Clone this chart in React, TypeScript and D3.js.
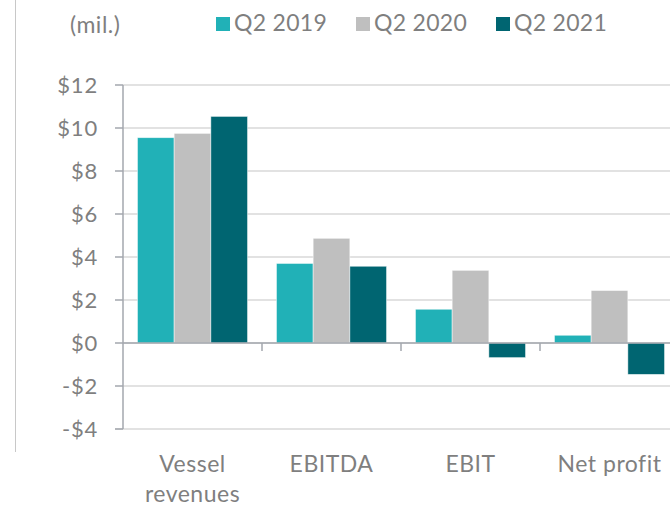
import React from "react";
import * as d3 from "d3";

// data (USD millions)
const categories = ["Vessel revenues", "EBITDA", "EBIT", "Net profit"];
const seriesNames = ["Q2 2019", "Q2 2020", "Q2 2021"];
const q2019 = [9.55, 3.7, 1.57, 0.36];
const q2020 = [9.75, 4.87, 3.38, 2.44];
const q2021 = [10.54, 3.57, -0.68, -1.46];
const yTicks = [-4, -2, 0, 2, 4, 6, 8, 10, 12];
const colors = ["#21b1b7", "#bfbfbf", "#006571"];

const W = 670;
const H = 507;
const font = "Lato, 'Noto Sans', sans-serif";
const textColor = "#7f7f7f";

const App = () => {
  const series = [q2019, q2020, q2021];

  const y = d3.scaleLinear().domain([-4, 12]).range([429, 85]);
  // the plot continues past the right edge of the picture
  const x0 = d3.scaleBand().domain(categories).range([123, 679]);
  const bw = x0.bandwidth();
  const x1 = d3
    .scaleBand()
    .domain(seriesNames)
    .range([bw * 0.104, bw * 0.896]);

  const fmt = (v) => (v < 0 ? `-$${Math.abs(v)}` : `$${v}`);

  // legend positions
  const legendX = [216, 356, 496];

  return (
    <svg
      width={W}
      height={H}
      style={{ position: "absolute", left: 0, top: 0 }}
      fontFamily={font}
    >
      {/* left border line */}
      <line x1={15.5} x2={15.5} y1={0} y2={452} stroke="#c8c8c8" strokeWidth={1} />

      {/* gridlines */}
      {yTicks.map((t) => (
        <line
          key={"g" + t}
          x1={t === -4 ? 115 : 123}
          x2={W}
          y1={y(t)}
          y2={y(t)}
          stroke="#d9d9d9"
          strokeWidth={1.5}
        />
      ))}

      {/* bars */}
      {categories.map((c, i) => (
        <g key={c} transform={`translate(${x0(c)},0)`}>
          {series.map((s, j) => {
            const v = s[i];
            return (
              <rect
                key={j}
                x={x1(seriesNames[j])}
                width={x1.bandwidth()}
                y={Math.min(y(v), y(0))}
                height={Math.abs(y(v) - y(0))}
                fill={colors[j]}
                stroke="#ffffff"
                strokeOpacity={0.6}
                strokeWidth={0.8}
              />
            );
          })}
        </g>
      ))}

      {/* x axis at zero */}
      <line x1={123} x2={W} y1={y(0)} y2={y(0)} stroke="#a3a7ae" strokeWidth={1.5} />
      {categories.slice(1).map((c) => (
        <line
          key={"xt" + c}
          x1={x0(c)}
          x2={x0(c)}
          y1={y(0)}
          y2={y(0) + 8}
          stroke="#a3a7ae"
          strokeWidth={1.5}
        />
      ))}

      {/* y axis */}
      <line x1={123} x2={123} y1={y(12)} y2={y(-4)} stroke="#a3a7ae" strokeWidth={1.5} />
      {yTicks.map((t) => (
        <g key={"yt" + t}>
          <line x1={115} x2={123} y1={y(t)} y2={y(t)} stroke="#a3a7ae" strokeWidth={1.5} />
          <text
            x={98}
            y={y(t)}
            dy="0.36em"
            textAnchor="end"
            fontSize={22}
            letterSpacing={0.8}
            fill={textColor}
          >
            {fmt(t)}
          </text>
        </g>
      ))}

      {/* category labels */}
      {categories.map((c) => {
        const cx = x0(c) + bw / 2;
        const lines = c === "Vessel revenues" ? ["Vessel", "revenues"] : [c];
        return (
          <text key={"cl" + c} textAnchor="middle" fontSize={23} letterSpacing={0.5} fill={textColor}>
            {lines.map((l, k) => (
              <tspan key={k} x={cx} y={472 + k * 30}>
                {l}
              </tspan>
            ))}
          </text>
        );
      })}

      {/* units */}
      <text x={70} y={33} fontSize={23} letterSpacing={0.5} fill={textColor}>
        (mil.)
      </text>

      {/* legend */}
      {seriesNames.map((n, j) => (
        <g key={n}>
          <rect x={legendX[j]} y={17} width={14} height={14} fill={colors[j]} />
          <text x={legendX[j] + 18} y={31} fontSize={23} letterSpacing={0.3} fill={textColor}>
            {n}
          </text>
        </g>
      ))}
    </svg>
  );
};

export default App;
